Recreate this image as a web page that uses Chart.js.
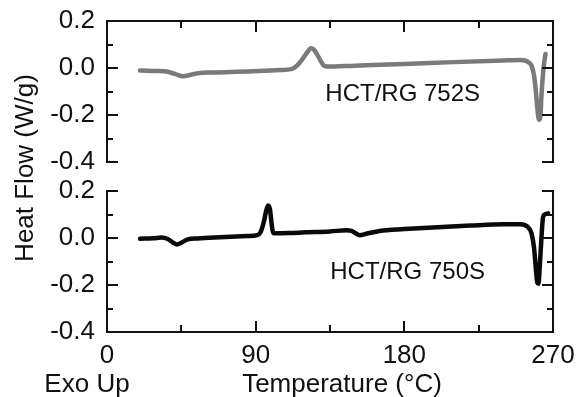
<!DOCTYPE html>
<html>
<head>
<meta charset="utf-8">
<script src="https://cdn.jsdelivr.net/npm/chart.js@4.4.0/dist/chart.umd.min.js"></script>
<style>
  html, body { margin: 0; padding: 0; background: #fff; }
  #caja { position: relative; width: 576px; height: 397px; background: #fff; }
  #caja canvas { position: absolute; left: 0; top: 0; }
</style>
</head>
<body>
<div id="caja">
  <canvas id="graficoSup" width="576" height="397"></canvas>
  <canvas id="graficoInf" width="576" height="397"></canvas>
</div>
<script>
// HCT/RG 752S (panel superior, gris)
var temps752 = [20, 25, 30, 36, 41, 46, 50, 55, 65, 75, 85, 95, 105, 112, 115, 118, 121, 123.5, 125, 127, 129, 131, 133,
  150, 180, 210, 240, 250, 253, 255, 257, 258.5, 259.5, 260.5, 261.5, 262.3, 263, 264, 265, 265.5];
var flujo752 = [-0.011, -0.012, -0.013, -0.015, -0.025, -0.035, -0.030, -0.022, -0.019, -0.017, -0.015, -0.012, -0.009, -0.004, 0.010, 0.035, 0.065, 0.084, 0.080, 0.060, 0.035, 0.012, 0.006,
  0.010, 0.017, 0.025, 0.032, 0.034, 0.032, 0.025, 0.010, -0.030, -0.090, -0.170, -0.220, -0.210, -0.120, -0.020, 0.040, 0.060];

// HCT/RG 750S (panel inferior, negro)
var temps750 = [20, 28, 33, 37, 40, 42.5, 45, 49, 55, 65, 75, 85, 91, 93, 95, 96.5, 97.6, 98.7, 99.5, 100.3, 101,
  110, 120, 135, 145, 148, 153, 157, 165, 180, 200, 220, 240, 250, 253, 255, 257, 258.5, 259.5, 260.5, 261.2, 262, 263, 264, 265, 267];
var flujo750 = [-0.003, -0.001, 0.002, -0.005, -0.020, -0.028, -0.020, -0.006, -0.002, 0.002, 0.005, 0.008, 0.012, 0.025, 0.070, 0.120, 0.138, 0.120, 0.070, 0.030, 0.020,
  0.021, 0.024, 0.028, 0.033, 0.030, 0.012, 0.018, 0.030, 0.038, 0.046, 0.053, 0.058, 0.058, 0.055, 0.045, 0.020, -0.040, -0.120, -0.190, -0.195, -0.120, 0.000, 0.090, 0.100, 0.105];

var ticksX = [0, 90, 180, 270];
var ticksY = [-0.4, -0.2, 0.0, 0.2];
var etiquetas = ["HCT/RG 752S", "HCT/RG 750S"];
var posEtiquetas = [[179, -0.112], [182, -0.145]];

var fuente = '"Liberation Sans", Arial, sans-serif';
Chart.defaults.font.family = fuente;
Chart.defaults.font.size = 26;
Chart.defaults.color = "#111";

function puntos(temps, flujo) {
  return temps.map(function (t, i) { return { x: t, y: flujo[i] }; });
}

function etiquetaY(v) {
  for (var i = 0; i < ticksY.length; i++) {
    if (Math.abs(v - ticksY[i]) < 1e-6) return ticksY[i].toFixed(1);
  }
  return "";
}

function etiquetaX(v) {
  return ticksX.indexOf(Math.round(v)) >= 0 ? String(Math.round(v)) : "";
}

// Marco con marcas hacia dentro y textos
function pluginMarco(esInferior, idx) {
  return {
    id: "marco" + idx,
    afterDraw: function (chart) {
      var ctx = chart.ctx;
      var a = chart.chartArea;
      var sx = chart.scales.x;
      var sy = chart.scales.y;
      ctx.save();
      ctx.strokeStyle = "#111";
      ctx.lineWidth = 2;
      ctx.beginPath();
      ctx.moveTo(a.left, a.top - 1); ctx.lineTo(a.left, a.bottom + 1);
      ctx.moveTo(a.right, a.top - 1); ctx.lineTo(a.right, a.bottom + 1);
      var yBorde = esInferior ? a.bottom : a.top;
      ctx.moveTo(a.left - 1, yBorde); ctx.lineTo(a.right + 1, yBorde);
      for (var k = -4; k <= 2; k++) {
        var py = Math.round(sy.getPixelForValue(k / 10));
        var largo = (k % 2 === 0) ? 11 : 6;
        ctx.moveTo(a.left, py); ctx.lineTo(a.left + largo, py);
        ctx.moveTo(a.right, py); ctx.lineTo(a.right - largo, py);
      }
      var dir = esInferior ? -1 : 1;
      for (var t = 45; t < 270; t += 45) {
        var px = Math.round(sx.getPixelForValue(t));
        var l = (t % 90 === 0) ? 11 : 7;
        ctx.moveTo(px, yBorde); ctx.lineTo(px, yBorde + dir * l);
      }
      ctx.stroke();

      ctx.fillStyle = "#111";
      ctx.font = "24px " + fuente;
      ctx.textAlign = "center";
      ctx.textBaseline = "middle";
      ctx.fillText(etiquetas[idx], sx.getPixelForValue(posEtiquetas[idx][0]), sy.getPixelForValue(posEtiquetas[idx][1]));

      if (esInferior) {
        ctx.font = "26px " + fuente;
        ctx.textBaseline = "alphabetic";
        ctx.fillText("Temperature (°C)", 342, 392);
        ctx.fillText("Exo Up", 87, 392);
        ctx.translate(33, 168);
        ctx.rotate(-Math.PI / 2);
        ctx.fillText("Heat Flow (W/g)", 0, 0);
      }
      ctx.restore();
    }
  };
}

function opcionesPanel(esInferior) {
  return {
    responsive: false,
    animation: false,
    devicePixelRatio: 1,
    layout: {
      padding: esInferior ? { left: 0, top: 191, right: 23, bottom: 0 } : { left: 0, top: 21, right: 23, bottom: 235 }
    },
    plugins: { legend: { display: false }, tooltip: { enabled: false } },
    elements: { point: { radius: 0 } },
    scales: {
      x: {
        type: "linear", min: 0, max: 270, position: "bottom", display: esInferior,
        grid: { display: false, drawTicks: false }, border: { display: false },
        ticks: { stepSize: 90, padding: 8, autoSkip: false, maxRotation: 0, callback: etiquetaX },
        afterFit: function (s) { s.height = esInferior ? 65 : 0; s.paddingLeft = 0; s.paddingRight = 0; }
      },
      y: {
        type: "linear", min: -0.4, max: 0.2, position: "left",
        grid: { display: false, drawTicks: false }, border: { display: false },
        ticks: { stepSize: 0.2, padding: 12, autoSkip: false, callback: etiquetaY },
        afterFit: function (s) { s.width = 107; s.paddingTop = 0; s.paddingBottom = 0; }
      }
    }
  };
}

var graficoSup = new Chart(document.getElementById("graficoSup"), {
  type: "line",
  data: {
    datasets: [{
      label: etiquetas[0],
      data: puntos(temps752, flujo752),
      borderColor: "#7a7a7a",
      borderWidth: 4.5,
      cubicInterpolationMode: "monotone",
      borderJoinStyle: "round",
      borderCapStyle: "round",
      fill: false
    }]
  },
  options: opcionesPanel(false),
  plugins: [pluginMarco(false, 0)]
});

var graficoInf = new Chart(document.getElementById("graficoInf"), {
  type: "line",
  data: {
    datasets: [{
      label: etiquetas[1],
      data: puntos(temps750, flujo750),
      borderColor: "#0a0a0a",
      borderWidth: 4.5,
      cubicInterpolationMode: "monotone",
      borderJoinStyle: "round",
      borderCapStyle: "round",
      fill: false
    }]
  },
  options: opcionesPanel(true),
  plugins: [pluginMarco(true, 1)]
});
</script>
</body>
</html>
